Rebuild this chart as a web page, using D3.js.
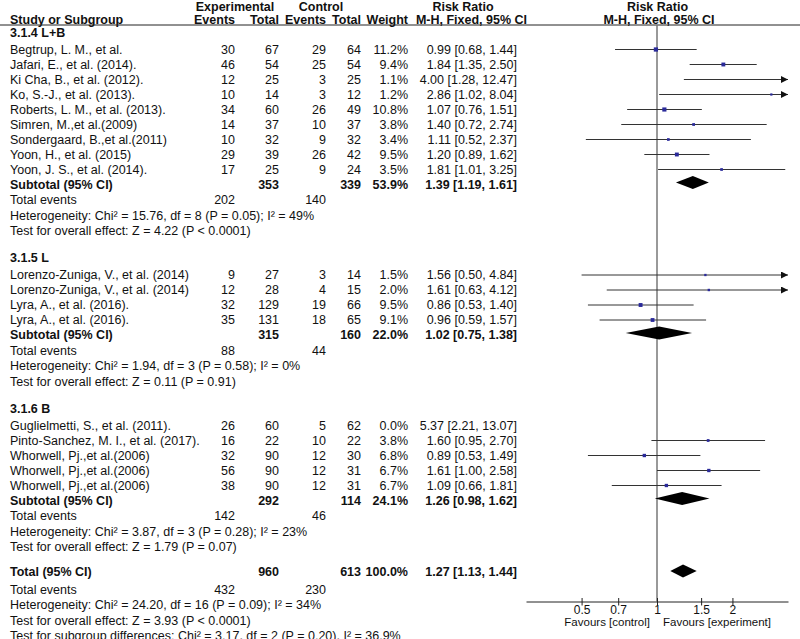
<!DOCTYPE html>
<html><head><meta charset="utf-8">
<script src="https://cdn.jsdelivr.net/npm/d3@7"></script>
<style>
html,body{margin:0;padding:0;background:#fff;}
svg text{font-family:"Liberation Sans",Arial,sans-serif;font-size:12.5px;fill:#111;}
</style></head>
<body>
<svg id="c" width="800" height="639"></svg>
<script>
// ---------------- DATA ----------------
const groupNames = ["3.1.4 L+B", "3.1.5 L", "3.1.6 B"];
const studyNames = [
  "Begtrup, L. M., et al.", "Jafari, E., et al. (2014).", "Ki Cha, B., et al. (2012).",
  "Ko, S.-J., et al. (2013).", "Roberts, L. M., et al. (2013).", "Simren, M.,et al.(2009)",
  "Sondergaard, B.,et al.(2011)", "Yoon, H., et al. (2015)", "Yoon, J. S., et al. (2014).",
  "Lorenzo-Zuniga, V., et al. (2014)", "Lorenzo-Zuniga, V., et al. (2014)",
  "Lyra, A., et al. (2016).", "Lyra, A., et al. (2016).",
  "Guglielmetti, S., et al. (2011).", "Pinto-Sanchez, M. I., et al. (2017).",
  "Whorwell, Pj.,et al.(2006)", "Whorwell, Pj.,et al.(2006)", "Whorwell, Pj.,et al.(2006)"
];
const studyGroup = [0,0,0,0,0,0,0,0,0, 1,1,1,1, 2,2,2,2,2];
const expEvents  = [30,46,12,10,34,14,10,29,17, 9,12,32,35, 26,16,32,56,38];
const expTotal   = [67,54,25,14,60,37,32,39,25, 27,28,129,131, 60,22,90,90,90];
const ctrlEvents = [29,25,3,3,26,10,9,26,9, 3,4,19,18, 5,10,12,12,12];
const ctrlTotal  = [64,54,25,12,49,37,32,42,24, 14,15,66,65, 62,22,30,31,31];
const weights    = [11.2,9.4,1.1,1.2,10.8,3.8,3.4,9.5,3.5, 1.5,2.0,9.5,9.1, 0.0,3.8,6.8,6.7,6.7];
const rr         = [0.99,1.84,4.00,2.86,1.07,1.40,1.11,1.20,1.81, 1.56,1.61,0.86,0.96, 5.37,1.60,0.89,1.61,1.09];
const ciLow      = [0.68,1.35,1.28,1.02,0.76,0.72,0.52,0.89,1.01, 0.50,0.63,0.53,0.59, 2.21,0.95,0.53,1.00,0.66];
const ciHigh     = [1.44,2.50,12.47,8.04,1.51,2.74,2.37,1.62,3.25, 4.84,4.12,1.40,1.57, 13.07,2.70,1.49,2.58,1.81];

const subExpTotal  = [353, 315, 292];
const subCtrlTotal = [339, 160, 114];
const subWeight    = ["53.9%", "22.0%", "24.1%"];
const subRR        = [1.39, 1.02, 1.26];
const subLow       = [1.19, 0.75, 0.98];
const subHigh      = [1.61, 1.38, 1.62];
const subExpEvents = [202, 88, 142];
const subCtrlEvents= [140, 44, 46];
const subHetero = [
  "Heterogeneity: Chi\u00b2 = 15.76, df = 8 (P = 0.05); I\u00b2 = 49%",
  "Heterogeneity: Chi\u00b2 = 1.94, df = 3 (P = 0.58); I\u00b2 = 0%",
  "Heterogeneity: Chi\u00b2 = 3.87, df = 3 (P = 0.28); I\u00b2 = 23%"
];
const subEffect = [
  "Test for overall effect: Z = 4.22 (P < 0.0001)",
  "Test for overall effect: Z = 0.11 (P = 0.91)",
  "Test for overall effect: Z = 1.79 (P = 0.07)"
];
const totalExp = 960, totalCtrl = 613, totalWeight = "100.0%";
const totalRR = 1.27, totalLow = 1.13, totalHigh = 1.44;
const totalExpEvents = 432, totalCtrlEvents = 230;
const totalHetero = "Heterogeneity: Chi\u00b2 = 24.20, df = 16 (P = 0.09); I\u00b2 = 34%";
const totalEffect = "Test for overall effect: Z = 3.93 (P < 0.0001)";
const subgroupDiff = "Test for subgroup differences: Chi\u00b2 = 3.17, df = 2 (P = 0.20), I\u00b2 = 36.9%";
const axisTicks = [0.5, 0.7, 1, 1.5, 2];
const axisDomain = [0.3, 3.333];

// ---------------- LAYOUT ----------------
const svg = d3.select("#c");
const X = {label:10, expEv:235, expTot:279, ctrlEv:326, ctrlTot:361, weight:408, rrText:517};
const x = d3.scaleLog().domain(axisDomain).range([526, 788]);
const fmt = v => v.toFixed(2);
const ciText = (r,l,h) => `${fmt(r)} [${fmt(l)}, ${fmt(h)}]`;

const rows = [];
const gaps = {heading:{study:17}, study:{study:15, subtotal:15}, subtotal:{events:15.5},
  events:{hetero:15.5}, hetero:{effect:15.5}, effect:{heading:27, total:25},
  total:{events:17.5}};
function push(type, data){ rows.push({type, ...data}); }
groupNames.forEach((g, gi) => {
  push("heading", {text:g});
  studyNames.forEach((n, i) => { if (studyGroup[i] === gi) push("study", {i}); });
  push("subtotal", {gi});
  push("events", {e:subExpEvents[gi], c:subCtrlEvents[gi]});
  push("hetero", {text:subHetero[gi]});
  push("effect", {text:subEffect[gi]});
});
push("total", {});
push("events", {e:totalExpEvents, c:totalCtrlEvents});
push("hetero", {text:totalHetero});
push("effect", {text:totalEffect});
push("subdiff", {text:subgroupDiff});
let y = 32.5;
rows.forEach((r, k) => {
  if (k > 0) {
    const p = rows[k-1].type;
    y += (gaps[p] && gaps[p][r.type]) || 15;
  }
  r.y = y;
});

// ---------------- HEADER ----------------
const hdr = svg.append("g");
function t(g, txt, xx, yy, anchor, bold){
  return g.append("text").attr("x",xx).attr("y",yy).attr("dy","0.35em")
    .attr("text-anchor",anchor||"start").attr("font-weight", bold?"bold":null).text(txt);
}
const h1 = 6.5, h2 = 20;
t(hdr,"Experimental",235,h1,"middle",true);
t(hdr,"Control",321,h1,"middle",true);
t(hdr,"Risk Ratio",463,h1,"middle",true);
t(hdr,"Risk Ratio",657.5,h1,"middle",true);
t(hdr,"Study or Subgroup",X.label,h2,"start",true);
t(hdr,"Events",X.expEv,h2,"end",true);
t(hdr,"Total",X.expTot,h2,"end",true);
t(hdr,"Events",X.ctrlEv,h2,"end",true);
t(hdr,"Total",X.ctrlTot,h2,"end",true);
t(hdr,"Weight",X.weight,h2,"end",true);
t(hdr,"M-H, Fixed, 95% CI",471.5,h2,"middle",true);
t(hdr,"M-H, Fixed, 95% CI",659,h2,"middle",true);
svg.append("line").attr("x1",0).attr("x2",800).attr("y1",25).attr("y2",25)
  .attr("stroke","#222").attr("stroke-width",1);

// ---------------- PLOT BACKGROUND ----------------
const axisY = 601.5;
svg.append("line").attr("x1",x(1)).attr("x2",x(1)).attr("y1",25.5).attr("y2",axisY)
  .attr("stroke","#555").attr("stroke-width",1.2);

svg.append("defs").append("marker").attr("id","arr").attr("viewBox","0 0 10 10")
  .attr("refX",10).attr("refY",5).attr("markerWidth",7).attr("markerHeight",7)
  .attr("markerUnits","userSpaceOnUse").attr("orient","auto")
  .append("path").attr("d","M0,0L10,5L0,10Z").attr("fill","#111");

// ---------------- ROWS ----------------
const body = svg.append("g");
const [dMin, dMax] = axisDomain;
function diamond(r, l, h, yy){
  body.append("path").attr("fill","#000")
    .attr("d", `M${x(l)},${yy}L${x(r)},${yy-6.5}L${x(h)},${yy}L${x(r)},${yy+6.5}Z`);
}
rows.forEach(r => {
  const yy = r.y;
  if (r.type === "heading") t(body, r.text, X.label, yy, "start", true);
  else if (r.type === "study") {
    const i = r.i;
    t(body, studyNames[i], X.label, yy);
    t(body, expEvents[i], X.expEv, yy, "end");
    t(body, expTotal[i], X.expTot, yy, "end");
    t(body, ctrlEvents[i], X.ctrlEv, yy, "end");
    t(body, ctrlTotal[i], X.ctrlTot, yy, "end");
    t(body, weights[i].toFixed(1)+"%", X.weight, yy, "end");
    t(body, ciText(rr[i], ciLow[i], ciHigh[i]), X.rrText, yy, "end");
    // studies with zero weight are not plotted
    if (weights[i] > 0 && ciLow[i] < dMax && ciHigh[i] > dMin) {
      const l = Math.max(ciLow[i], dMin), h = Math.min(ciHigh[i], dMax);
      const ln = body.append("line").attr("x1",x(l)).attr("x2",x(h)).attr("y1",yy).attr("y2",yy)
        .attr("stroke","#333").attr("stroke-width",1);
      if (ciHigh[i] > dMax) ln.attr("marker-end","url(#arr)");
      if (rr[i] >= dMin && rr[i] <= dMax) {
        const s = 2 + weights[i]*0.2;
        body.append("rect").attr("x",x(rr[i])-s/2).attr("y",yy-s/2).attr("width",s).attr("height",s)
          .attr("fill","#2a2a9a");
      }
    }
  }
  else if (r.type === "subtotal") {
    const gi = r.gi;
    t(body, "Subtotal (95% CI)", X.label, yy, "start", true);
    t(body, subExpTotal[gi], X.expTot, yy, "end", true);
    t(body, subCtrlTotal[gi], X.ctrlTot, yy, "end", true);
    t(body, subWeight[gi], X.weight, yy, "end", true);
    t(body, ciText(subRR[gi], subLow[gi], subHigh[gi]), X.rrText, yy, "end", true);
    diamond(subRR[gi], subLow[gi], subHigh[gi], yy-2);
  }
  else if (r.type === "events") {
    t(body, "Total events", X.label, yy);
    t(body, r.e, X.expEv, yy, "end");
    t(body, r.c, X.ctrlEv, yy, "end");
  }
  else if (r.type === "hetero" || r.type === "effect" || r.type === "subdiff") {
    t(body, r.text, X.label, yy);
  }
  else if (r.type === "total") {
    t(body, "Total (95% CI)", X.label, yy, "start", true);
    t(body, totalExp, X.expTot, yy, "end", true);
    t(body, totalCtrl, X.ctrlTot, yy, "end", true);
    t(body, totalWeight, X.weight, yy, "end", true);
    t(body, ciText(totalRR, totalLow, totalHigh), X.rrText, yy, "end", true);
    diamond(totalRR, totalLow, totalHigh, yy-1);
  }
});

// ---------------- AXIS ----------------
const ax = svg.append("g").attr("transform",`translate(0,${axisY})`)
  .call(d3.axisBottom(x).tickValues(axisTicks).tickFormat(d => String(d)).tickSize(4).tickSizeOuter(0));
ax.select(".domain").attr("stroke","#222");
ax.selectAll(".tick line").attr("y1",-3.5).attr("y2",4).attr("stroke","#222");
ax.selectAll(".tick text").attr("y",8).attr("dy","0.35em").attr("fill","#111")
  .style("font-family","'Liberation Sans',Arial,sans-serif").style("font-size","12px");
t(svg, "Favours [control]", 650, 622, "end").style("font-size","11.5px");
t(svg, "Favours [experiment]", 663, 622, "start").style("font-size","11.5px");
</script>
</body></html>
